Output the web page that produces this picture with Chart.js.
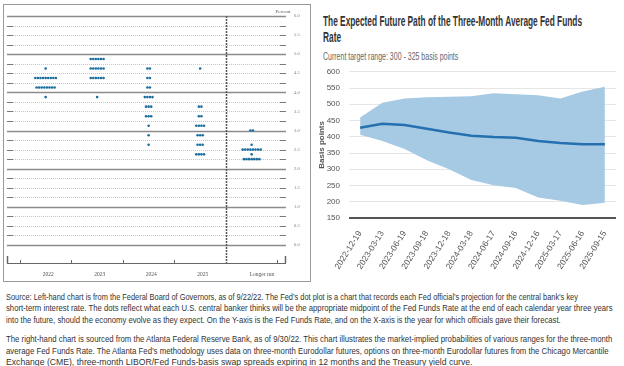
<!DOCTYPE html>
<html>
<head>
<meta charset="utf-8">
<script src="https://cdn.jsdelivr.net/npm/chart.js@4"></script>
<style>
    body { margin: 0; width: 624px; height: 366px; background: #fff; position: relative; overflow: hidden; }
    #dotBox { position: absolute; left: 3px; top: 4px; width: 306px; height: 276px; border: 1px solid #999; }
    #dotBox canvas { display: block; }
    #pathBox { position: absolute; left: 312px; top: 58px; width: 312px; height: 224px; }
    .fit { white-space: nowrap; transform-origin: 0 0; }
    #pathTitle { position: absolute; left: 323px; top: 13px; font: 600 14px "Liberation Sans", sans-serif; line-height: 16px; color: #333; }
    #pathSub { position: absolute; left: 323px; top: 51px; font: 10px "Liberation Sans", sans-serif; color: #666; }
    #notes { position: absolute; left: 6px; top: 292px; font: 8.2px "Liberation Sans", sans-serif; line-height: 11.4px; color: #333; }
    #notes .gap { height: 8px; }
</style>
</head>
<body>
<div id="dotBox"><canvas id="ChartDots" width="306" height="276"></canvas></div>
<div id="pathTitle" class="fit" data-w="259">The Expected Future Path of the Three-Month Average Fed Funds<br>Rate</div>
<div id="pathSub" class="fit" data-w="135">Current target range: 300 - 325 basis points</div>
<div id="pathBox"><canvas id="ChartPath" width="312" height="224"></canvas></div>
<div id="notes">
<div class="fit" data-w="572">Source: Left-hand chart is from the Federal Board of Governors, as of 9/22/22. The Fed’s dot plot is a chart that records each Fed official’s projection for the central bank’s key</div>
<div class="fit" data-w="607">short-term interest rate. The dots reflect what each U.S. central banker thinks will be the appropriate midpoint of the Fed Funds Rate at the end of each calendar year three years</div>
<div class="fit" data-w="555">into the future, should the economy evolve as they expect. On the Y-axis is the Fed Funds Rate, and on the X-axis is the year for which officials gave their forecast.</div>
<div class="gap"></div>
<div class="fit" data-w="606">The right-hand chart is sourced from the Atlanta Federal Reserve Bank, as of 9/30/22. This chart illustrates the market-implied probabilities of various ranges for the three-month</div>
<div class="fit" data-w="603">average Fed Funds Rate. The Atlanta Fed’s methodology uses data on three-month Eurodollar futures, options on three-month Eurodollar futures from the Chicago Mercantile</div>
<div class="fit" data-w="466">Exchange (CME), three-month LIBOR/Fed Funds-basis swap spreads expiring in 12 months and the Treasury yield curve.</div>
</div>
<script>
// dot plot: [rate midpoint, number of officials]
const dotYears = ['2022', '2023', '2024', '2025', 'Longer run'];
const dots2022 = [[4.625, 1], [4.375, 9], [4.125, 8], [3.875, 1]];
const dots2023 = [[4.875, 6], [4.625, 6], [4.375, 6], [3.875, 1]];
const dots2024 = [[4.625, 2], [4.375, 2], [4.125, 2], [3.875, 4], [3.625, 3], [3.375, 3], [3.125, 1], [2.875, 1], [2.625, 1]];
const dots2025 = [[4.625, 1], [3.625, 2], [3.375, 2], [3.125, 4], [2.875, 3], [2.625, 3], [2.375, 4]];
const dotsLonger = [[3.0, 2], [2.625, 1], [2.5, 8], [2.375, 1], [2.25, 7]];
const dotTicks = [0, 0.5, 1, 1.5, 2, 2.5, 3, 3.5, 4, 4.5, 5, 5.5, 6];

// atlanta fed path, basis points
const pathDates = ['2022-12-19', '2023-03-13', '2023-06-19', '2023-09-18', '2023-12-18', '2024-03-18',
    '2024-06-17', '2024-09-16', '2024-12-16', '2025-03-17', '2025-06-16', '2025-09-15'];
const pathMedian = [428, 440, 436, 425, 413, 403, 399, 397, 387, 381, 377, 377];
const pathUpper = [459, 505, 518, 522, 523, 525, 534, 531, 528, 518, 539, 554];
const pathLower = [406, 387, 362, 328, 300, 267, 251, 242, 213, 203, 190, 197];

const DOT_GAP = 0.05;
const LABEL_POS = [0.05, 1.05, 2.05, 3.05, 4.2];

function buildDots() {
    let points = [];
    [dots2022, dots2023, dots2024, dots2025, dotsLonger].forEach((col, idx) => {
        col.forEach(row => {
            const rate = row[0], count = row[1];
            for (let i = 0; i < count; i++) {
                points.push({x: idx + (i - (count - 1) / 2) * DOT_GAP, y: rate});
            }
        });
    });
    return points;
}

// squeeze the html text to the width it has in the original
function fitText() {
    document.querySelectorAll('.fit').forEach(el => {
        el.style.display = 'inline-block';
        const w = el.scrollWidth;
        el.style.display = el.id ? '' : 'block';
        el.style.transform = 'scaleX(' + (el.dataset.w / w) + ')';
    });
}

// grid lines, divider and bottom axis of the dot plot
const dotFrame = {
    id: 'dotFrame',
    beforeDatasetsDraw(chart) {
        const {ctx, chartArea: a, scales: {x, y}} = chart;
        ctx.save();
        for (let v = 0; v <= 6; v += 0.25) {
            const py = Math.round(y.getPixelForValue(v)) + 0.5;
            if (v % 1 === 0) {
                ctx.strokeStyle = '#8c8c8c';
                ctx.lineWidth = 1.6;
                ctx.setLineDash([]);
                ctx.beginPath(); ctx.moveTo(a.left, py); ctx.lineTo(a.right, py); ctx.stroke();
            } else {
                ctx.strokeStyle = '#c6c6c6';
                ctx.lineWidth = 1;
                ctx.setLineDash([1, 1]);
                ctx.beginPath(); ctx.moveTo(a.left + 6, py); ctx.lineTo(a.right - 6, py); ctx.stroke();
                ctx.setLineDash([]);
                ctx.strokeStyle = '#7a7a7a';
                ctx.beginPath(); ctx.moveTo(a.left, py); ctx.lineTo(a.left + 6, py); ctx.stroke();
                ctx.beginPath(); ctx.moveTo(a.right - 6, py); ctx.lineTo(a.right, py); ctx.stroke();
            }
        }
        // divider before longer run
        const dx = Math.round(x.getPixelForValue(3.5)) + 0.5;
        ctx.strokeStyle = '#555';
        ctx.lineWidth = 1.5;
        ctx.setLineDash([2, 1]);
        ctx.beginPath(); ctx.moveTo(dx, y.getPixelForValue(6)); ctx.lineTo(dx, a.bottom); ctx.stroke();
        ctx.setLineDash([]);
        // bottom axis
        ctx.strokeStyle = '#666';
        ctx.lineWidth = 1;
        ctx.beginPath(); ctx.moveTo(a.left, a.bottom + 0.5); ctx.lineTo(a.right, a.bottom + 0.5); ctx.stroke();
        [-0.5, 0.5, 1.5, 2.5, 4.5].forEach(t => {
            const tx = Math.round(x.getPixelForValue(t)) + 0.5;
            ctx.beginPath(); ctx.moveTo(tx, a.bottom); ctx.lineTo(tx, a.bottom - 3); ctx.stroke();
        });
        ctx.lineWidth = 1.5;
        ctx.beginPath(); ctx.moveTo(a.left + 0.5, a.bottom); ctx.lineTo(a.left + 0.5, a.bottom - 7); ctx.stroke();
        ctx.beginPath(); ctx.moveTo(a.right - 0.5, a.bottom); ctx.lineTo(a.right - 0.5, a.bottom - 7); ctx.stroke();
        // unit label
        ctx.fillStyle = '#555';
        ctx.font = '5px "Liberation Serif"';
        ctx.textAlign = 'center';
        ctx.fillText('Percent', a.right - 3, y.getPixelForValue(6) - 3);
        ctx.restore();
    }
};

function drawDotPlot() {
    const chartDots = document.getElementById('ChartDots');
    new Chart(chartDots, {
        type: 'scatter',
        data: {
            datasets: [{
                data: buildDots(),
                pointRadius: 1.3,
                pointBorderWidth: 0,
                pointBackgroundColor: '#1b6d9e',
                pointHoverRadius: 1.3
            }]
        },
        options: {
            responsive: false,
            animation: false,
            layout: {padding: {left: 3, top: 11, right: 0, bottom: 0}},
            plugins: {legend: {display: false}, tooltip: {enabled: false}},
            scales: {
                x: {
                    type: 'linear',
                    min: -0.75,
                    max: 4.667,
                    grid: {display: false},
                    border: {display: false},
                    afterBuildTicks: scale => { scale.ticks = LABEL_POS.map(v => ({value: v})); },
                    afterFit: scale => { scale.height = 18; },
                    ticks: {
                        padding: 0,
                        color: '#555',
                        font: {family: 'Liberation Serif', size: 5.5},
                        callback: (v, i) => dotYears[i]
                    }
                },
                y: {
                    position: 'right',
                    min: -0.4716,
                    max: 6,
                    grid: {display: false},
                    border: {display: false},
                    afterBuildTicks: scale => { scale.ticks = dotTicks.map(v => ({value: v})); },
                    afterFit: scale => { scale.width = 24; },
                    ticks: {
                        padding: 0,
                        color: '#777',
                        font: {family: 'Liberation Serif', size: 4.5},
                        callback: v => v.toFixed(1)
                    }
                }
            }
        },
        plugins: [dotFrame]
    });
}

function drawPath() {
    const chartPath = document.getElementById('ChartPath');
    new Chart(chartPath, {
        type: 'line',
        data: {
            labels: pathDates,
            datasets: [{
                label: 'Upper',
                data: pathUpper,
                borderWidth: 0,
                pointRadius: 0,
                backgroundColor: 'rgb(166, 202, 227)',
                fill: '+1',
                order: 2
            }, {
                label: 'Lower',
                data: pathLower,
                borderWidth: 0,
                pointRadius: 0,
                fill: false,
                order: 2
            }, {
                label: 'Median',
                data: pathMedian,
                borderColor: '#2470b0',
                borderWidth: 2.5,
                pointRadius: 0,
                fill: false,
                order: 0
            }]
        },
        options: {
            responsive: false,
            animation: false,
            layout: {padding: {left: 5, top: 0, right: 8, bottom: 0}},
            plugins: {legend: {display: false}, tooltip: {enabled: false}},
            scales: {
                x: {
                    offset: true,
                    grid: {display: false},
                    border: {display: false},
                    afterFit: scale => { scale.height = 64; },
                    ticks: {
                        minRotation: 58,
                        maxRotation: 58,
                        color: '#555',
                        font: {family: 'Liberation Sans', size: 8.5}
                    }
                },
                y: {
                    min: 150,
                    max: 600,
                    border: {display: false},
                    afterFit: scale => { scale.width = 32; },
                    grid: {
                        drawTicks: false,
                        color: c => c.tick.value === 150 ? '#555' : '#e6e6e6',
                        lineWidth: c => c.tick.value === 150 ? 2 : 1
                    },
                    ticks: {
                        stepSize: 25,
                        padding: 9,
                        color: '#555',
                        font: {family: 'Liberation Sans', size: 8},
                        callback: v => v % 50 === 0 ? v : ''
                    },
                    title: {
                        display: true,
                        text: 'Basis points',
                        color: '#555',
                        padding: 0,
                        font: {family: 'Liberation Sans', size: 8, weight: 'bold'}
                    }
                }
            }
        }
    });
}

document.addEventListener("DOMContentLoaded", function () {
    fitText();
    drawDotPlot();
    drawPath();
});
</script>
</body>
</html>
